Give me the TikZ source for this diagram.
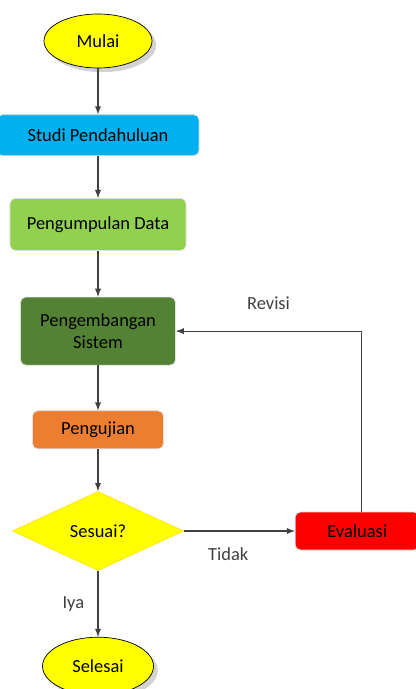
\documentclass[tikz,border=0pt]{standalone}
\usepackage{fontspec}
\setmainfont{Carlito}
\usepackage{xcolor}
\usepackage{tikz}
\usetikzlibrary{arrows, positioning, shapes, shadows}

\definecolor{terminal}{HTML}{FFFF00}
\definecolor{studi}{HTML}{00B0F0}
\definecolor{kumpul}{HTML}{92D050}
\definecolor{kembang}{HTML}{548235}
\definecolor{uji}{HTML}{ED7D31}
\definecolor{evaluasi}{HTML}{FF0000}
\definecolor{garis}{HTML}{404040}

\tikzset{
    terminator/.style={draw=black, ellipse, fill=terminal, drop shadow={opacity=0.35}},
    process/.style={draw=gray!25, rectangle, rounded corners=3pt},
    decision/.style={draw=terminal!80!orange, diamond, fill=terminal, inner sep=0pt},
    flow/.style={->, >=latex, semithick, draw=garis}
}

\begin{document}
\begin{tikzpicture}[node distance=0.88cm, every node/.style={align=center, font=\fontsize{10.5}{13}\selectfont}]
        \useasboundingbox (-1.96,0.82) rectangle (6.34,-12.96);
        \node (mulai) [terminator, minimum width=2.16cm, minimum height=1.08cm] at (0,0) {Mulai};
        \node (studi) [process, fill=studi, minimum width=4.04cm, minimum height=0.82cm, below=0.92cm of mulai] {Studi Pendahuluan};
        \node (data) [process, fill=kumpul, minimum width=3.52cm, minimum height=1.04cm, below=0.84cm of studi] {Pengumpulan Data};
        \node (sistem) [process, fill=kembang, minimum width=3.10cm, minimum height=1.36cm, below=0.92cm of data] {Pengembangan\\Sistem};
        \node (uji) [process, fill=uji, minimum width=2.62cm, minimum height=0.76cm, below=0.90cm of sistem] {Pengujian};
        \node (sesuai) [decision, minimum width=3.42cm, minimum height=1.58cm, below=0.84cm of uji] {Sesuai?};
        \node (evaluasi) [process, fill=evaluasi, minimum width=2.48cm, minimum height=0.76cm, right=2.22cm of sesuai] {Evaluasi};
        \node (selesai) [terminator, minimum width=2.22cm, minimum height=1.16cm, below=1.32cm of sesuai] {Selesai};
        \coordinate (belok) at ([xshift=0.08cm]evaluasi.north |- sistem.east);

        \draw[flow] (mulai) -- (studi);
        \draw[flow] (studi) -- (data);
        \draw[flow] (data) -- (sistem);
        \draw[flow] (sistem) -- (uji);
        \draw[flow] (uji) -- (sesuai);
        \draw[flow] (sesuai) -- (evaluasi) node[pos=0.4, below=0.2cm, text=garis] {Tidak};
        \draw[flow] (sesuai) -- (selesai) node[midway, left=0.15cm, text=garis] {Iya};
        \draw[flow] ([xshift=0.08cm]evaluasi.north) -- (belok) -- (sistem.east) node[midway, above=0.3cm, text=garis] {Revisi};
    \end{tikzpicture}
\end{document}
